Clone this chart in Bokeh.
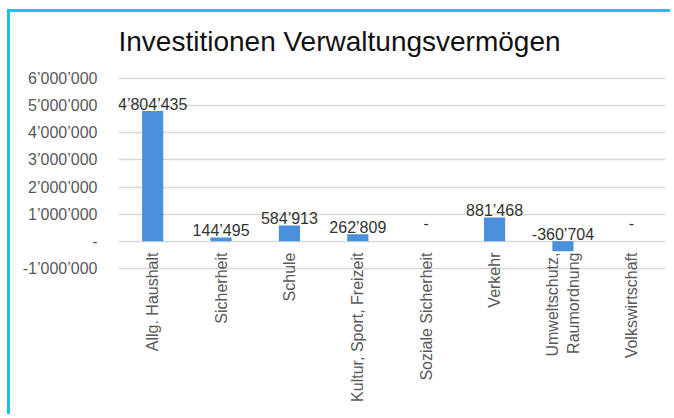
import math
from bokeh.plotting import figure
from bokeh.models import ColumnDataSource, LabelSet, FixedTicker, Range1d, FactorRange
from bokeh.core.properties import value
from bokeh.embed import file_html
from bokeh.resources import INLINE

# ---- data ----
title_text = "Investitionen Verwaltungsvermögen"
categories = ["Allg. Haushalt", "Sicherheit", "Schule", "Kultur, Sport, Freizeit",
              "Soziale Sicherheit", "Verkehr", "Umweltschutz,\nRaumordnung", "Volkswirtschaft"]
values = [4804435, 144495, 584913, 262809, 0, 881468, -360704, 0]
value_labels = ["4’804’435", "144’495", "584’913", "262’809", "-", "881’468", "-360’704", "-"]
tick_values = [-1000000, 0, 1000000, 2000000, 3000000, 4000000, 5000000, 6000000]
tick_labels = ["-1’000’000", "-", "1’000’000", "2’000’000", "3’000’000", "4’000’000", "5’000’000", "6’000’000"]

FONT = "Liberation Sans"
BAR = "#4a90da"
GRID = "#d9d9d9"
TXT = "#595959"
FRAME_CYAN = "#14c3ef"

p = figure(frame_width=547, frame_height=196, output_backend="svg", toolbar_location=None,
           x_range=FactorRange(factors=categories, range_padding=0),
           y_range=Range1d(-1110000, 6110000),
           min_border_left=111, min_border_right=5, min_border_top=71, min_border_bottom=143)
grad = f"linear-gradient({FRAME_CYAN}, {FRAME_CYAN})"
p.styles = {"background": f"{grad} 0px 5px / 100% 3px no-repeat, {grad} 0px 5px / 3px 100% no-repeat",
            "margin-left": "7px", "margin-top": "4px"}

p.title.text = title_text
p.title.align = "left"
p.title.offset = 0
p.title.standoff = 37
p.title.text_line_height = 1.0
p.title.text_font = FONT
p.title.text_font_size = "28px"
p.title.text_font_style = "normal"
p.title.text_color = "#111111"

p.outline_line_color = None
p.background_fill_color = None
p.border_fill_color = None

src = ColumnDataSource(dict(x=categories, top=values))
p.vbar(x="x", top="top", bottom=0, width=0.31, source=src, fill_color=BAR, line_color=None)

# y axis
p.yaxis.ticker = FixedTicker(ticks=tick_values)
p.yaxis.major_label_overrides = {v: l for v, l in zip(tick_values, tick_labels)}
p.yaxis.axis_line_color = None
p.yaxis.major_tick_line_color = None
p.yaxis.minor_tick_line_color = None
p.yaxis.major_tick_out = 0
p.yaxis.major_tick_in = 0
p.yaxis.major_label_standoff = 21
p.yaxis.major_label_text_font = FONT
p.yaxis.major_label_text_font_size = "16px"
p.yaxis.major_label_text_color = TXT

# x axis: rotated labels pulled up under the zero line
p.xaxis.major_label_orientation = math.pi / 2
p.xaxis.axis_line_color = None
p.xaxis.major_tick_line_color = None
p.xaxis.minor_tick_line_color = None
p.xaxis.major_tick_out = 0
p.xaxis.major_tick_in = 0
p.xaxis.major_label_standoff = -19
p.xaxis.major_label_text_font = FONT
p.xaxis.major_label_text_font_size = "16px"
p.xaxis.major_label_text_color = TXT

p.xgrid.grid_line_color = None
p.ygrid.grid_line_color = GRID
p.ygrid.grid_line_width = 1.5

# data labels
lab_src = ColumnDataSource(dict(
    x=categories,
    y=[max(v, 0) for v in values],
    text=value_labels,
    yoff=[1 if v != 0 else 12 for v in values],
))
p.add_layout(LabelSet(x="x", y="y", text="text", source=lab_src, y_offset="yoff",
                      text_align="center", text_baseline="alphabetic",
                      text_font=value(FONT), text_font_size=value("16px"), text_color="#333333"))

open("out.html", "w").write(file_html(p, INLINE))
